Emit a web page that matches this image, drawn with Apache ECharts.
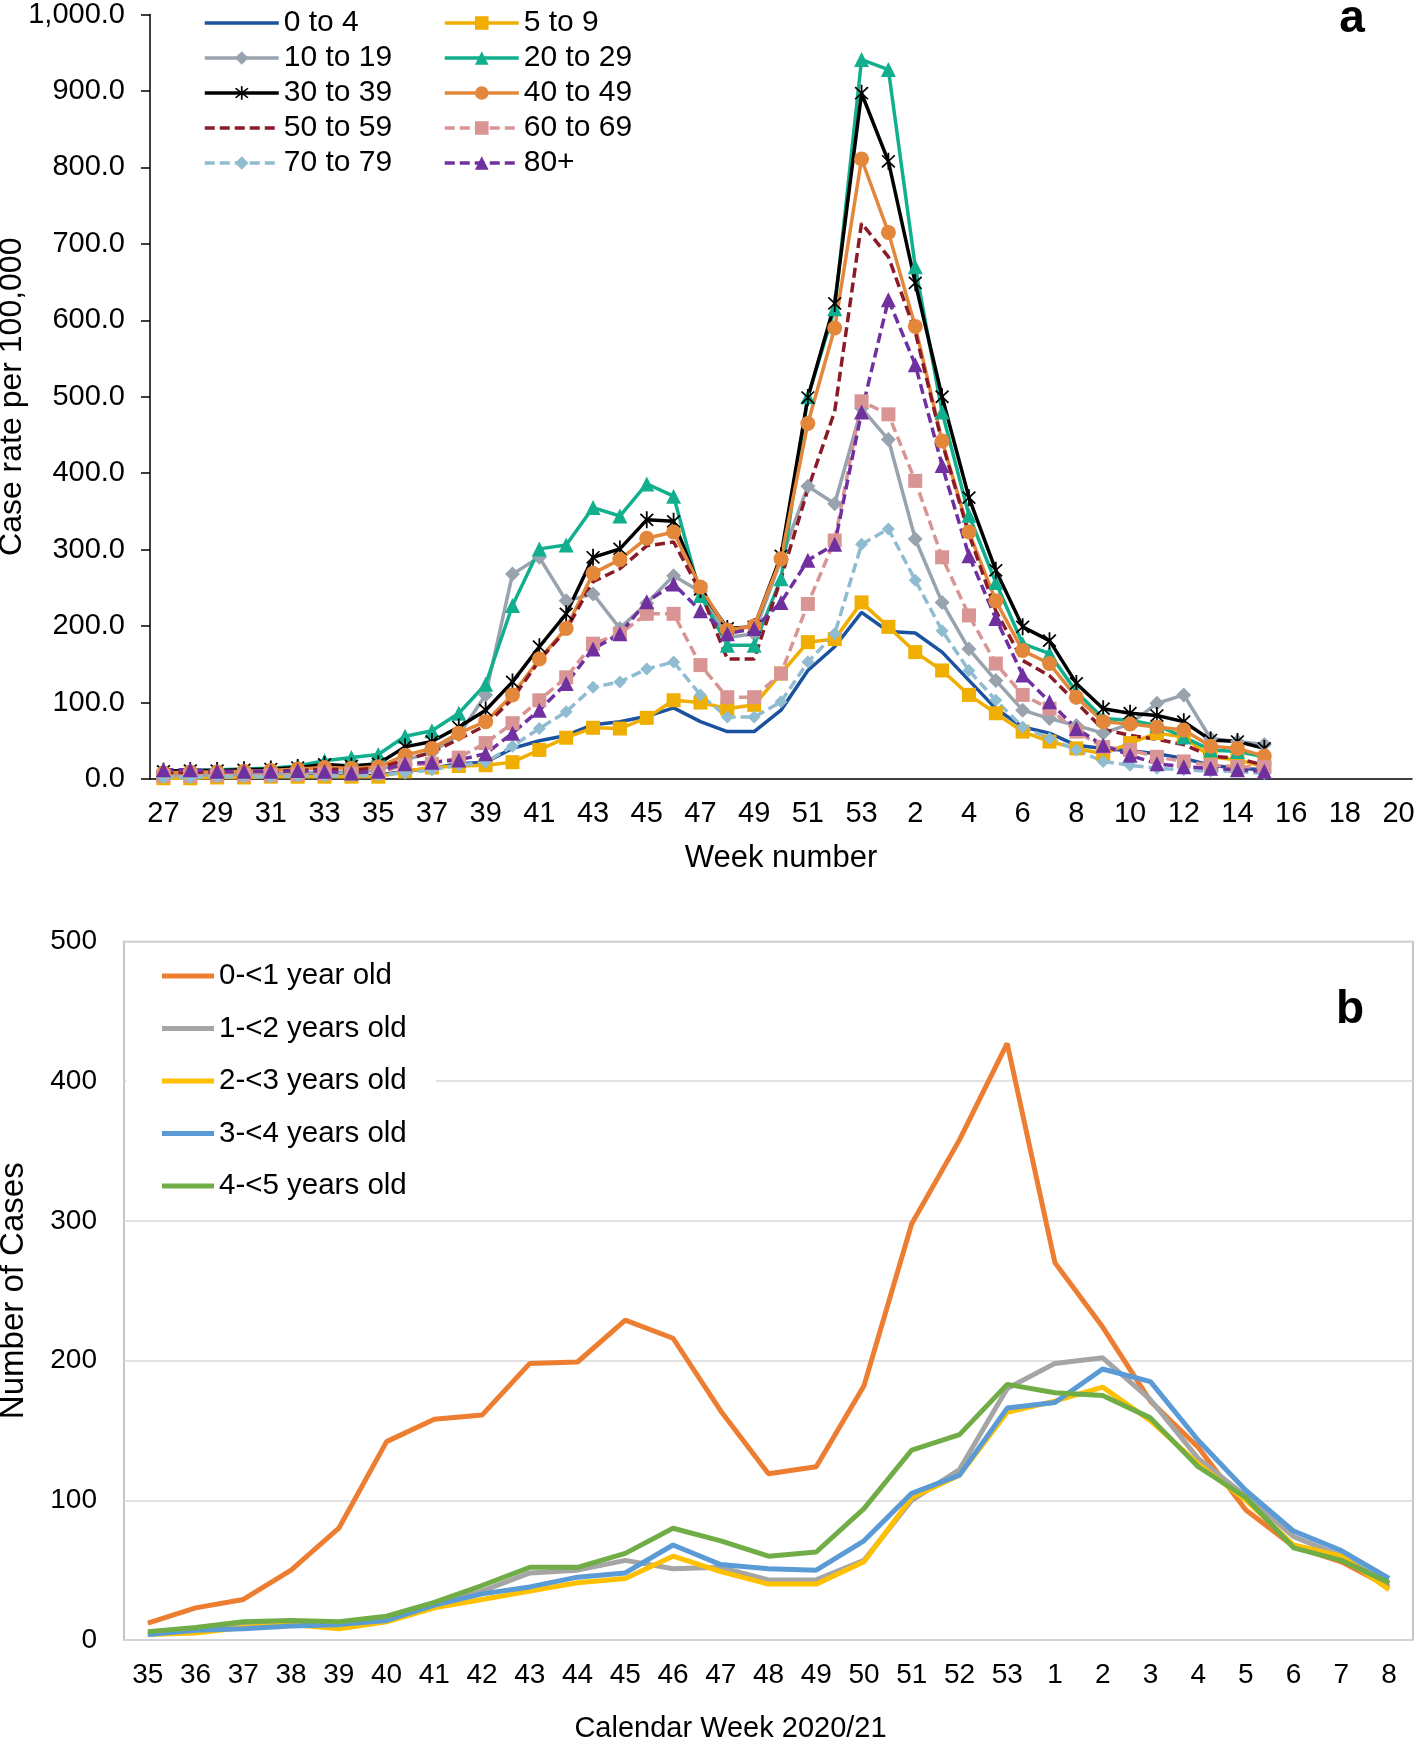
<!DOCTYPE html>
<html>
<head>
<meta charset="utf-8">
<script src="https://cdn.jsdelivr.net/npm/echarts@6/dist/echarts.min.js"></script>
<style>
  html, body { margin: 0; padding: 0; background: #fff; }
  #main { width: 1416px; height: 1744px; }
</style>
</head>
<body>
<div id="main"></div>
<script>
const FONT = '"Liberation Sans", Arial, sans-serif';

// panel a: weeks 27..53, then 1..20
const weeksA = [];
for (let w = 27; w <= 53; w++) weeksA.push(String(w));
for (let w = 1; w <= 20; w++) weeksA.push(String(w));

// case rate per 100,000 (weeks 27 to 15)
const age0to4 = [3, 3, 3, 3, 4, 4, 4, 4, 5, 10, 14, 20, 22, 40, 50, 57, 71, 75, 82, 93, 75, 62, 62, 90, 142, 173, 218,
  193, 191, 166, 129, 92, 68, 60, 44, 40, 37, 33, 27, 18, 14, 12];
const age5to9 = [1, 1, 2, 2, 3, 3, 3, 3, 3, 10, 15, 17, 18, 22, 38, 54, 67, 66, 80, 103, 100, 92, 97, 138, 179, 183, 231,
  199, 166, 142, 110, 86, 62, 49, 40, 33, 47, 60, 55, 29, 25, 16];
const age10to19 = [5, 5, 6, 6, 7, 8, 9, 9, 11, 25, 35, 58, 110, 268, 290, 233, 242, 197, 230, 266, 245, 185, 190, 287, 383, 360, 485,
  444, 314, 231, 170, 129, 90, 79, 70, 60, 72, 99, 110, 53, 49, 45];
const age20to29 = [10, 11, 12, 13, 14, 17, 24, 28, 32, 56, 63, 86, 124, 227, 301, 306, 355, 344, 386, 370, 240, 175, 175, 262, 500, 615, 941,
  928, 670, 480, 345, 257, 177, 164, 114, 79, 77, 70, 55, 38, 36, 29];
const age30to39 = [10, 11, 11, 12, 13, 15, 19, 17, 20, 42, 49, 68, 90, 127, 173, 216, 290, 301, 339, 337, 248, 197, 199, 292, 499, 622, 897,
  808, 649, 500, 368, 273, 199, 181, 125, 92, 86, 83, 75, 51, 49, 40];
const age40to49 = [8, 9, 9, 10, 11, 13, 15, 14, 16, 31, 40, 60, 75, 110, 157, 197, 269, 287, 315, 323, 251, 195, 200, 288, 465, 590, 811,
  715, 592, 442, 323, 233, 168, 151, 107, 75, 72, 68, 64, 43, 40, 30];
const age50to59 = [7, 8, 8, 9, 10, 11, 13, 12, 14, 25, 35, 52, 70, 105, 155, 195, 258, 275, 305, 310, 245, 157, 157, 262, 379, 481, 727,
  683, 585, 440, 320, 220, 155, 135, 100, 65, 57, 52, 45, 30, 27, 18];
const age60to69 = [4, 4, 5, 5, 5, 6, 7, 7, 8, 18, 20, 28, 47, 73, 103, 133, 177, 190, 216, 216, 149, 107, 107, 138, 229, 312, 494,
  477, 390, 290, 214, 151, 110, 92, 62, 42, 38, 29, 23, 18, 16, 16];
const age70to79 = [2, 2, 3, 3, 3, 4, 4, 4, 5, 8, 12, 18, 22, 43, 66, 88, 120, 127, 144, 153, 110, 81, 81, 101, 153, 190, 307,
  327, 260, 194, 142, 103, 68, 53, 38, 23, 18, 14, 12, 10, 10, 7];
const age80plus = [12, 12, 10, 10, 10, 11, 10, 8, 10, 20, 22, 25, 33, 60, 90, 125, 170, 190, 232, 255, 220, 190, 197, 231, 286, 307, 480,
  627, 542, 410, 292, 210, 136, 101, 66, 44, 31, 20, 16, 14, 12, 10];

// panel b: calendar weeks 35..53, 1..8
const weeksB = [];
for (let w = 35; w <= 53; w++) weeksB.push(String(w));
for (let w = 1; w <= 8; w++) weeksB.push(String(w));

const under1 = [12, 23, 29, 50, 80, 142, 158, 161, 198, 199, 229, 216, 164, 119, 124, 182, 298, 358, 427, 270, 224, 171, 138, 93, 67, 56, 38];
const age1 = [5, 8, 11, 12, 12, 16, 25, 35, 48, 50, 57, 51, 52, 43, 43, 57, 100, 122, 180, 198, 202, 172, 130, 103, 74, 60, 40];
const age2 = [4, 5, 9, 11, 8, 13, 23, 29, 35, 41, 44, 60, 49, 40, 40, 56, 102, 118, 163, 171, 181, 157, 126, 100, 68, 60, 36];
const age3 = [4, 7, 8, 10, 11, 14, 25, 33, 38, 45, 48, 68, 54, 51, 50, 71, 105, 118, 166, 170, 194, 185, 143, 107, 78, 64, 44];
const age4 = [6, 9, 13, 14, 13, 17, 27, 39, 52, 52, 62, 80, 71, 60, 63, 94, 136, 147, 183, 177, 175, 159, 124, 102, 66, 57, 41];

// excel style star marker (X with a vertical bar)
const star = 'path://M-10,-100 L10,-100 L10,100 L-10,100 Z M64,78 L-78,-64 L-64,-78 L78,64 Z M78,-64 L-64,78 L-78,64 L64,-78 Z';

const seriesA = [
  { name: '0 to 4', data: age0to4, color: '#1A52A0', symbol: 'none' },
  { name: '5 to 9', data: age5to9, color: '#F0AE00', symbol: 'rect', size: 14 },
  { name: '10 to 19', data: age10to19, color: '#98A3AD', symbol: 'diamond', size: 15 },
  { name: '20 to 29', data: age20to29, color: '#12AF8E', symbol: 'triangle', size: 15 },
  { name: '30 to 39', data: age30to39, color: '#000000', symbol: star, size: [14, 17] },
  { name: '40 to 49', data: age40to49, color: '#E3883A', symbol: 'circle', size: 15 },
  { name: '50 to 59', data: age50to59, color: '#8A1C2A', symbol: 'none', dash: true },
  { name: '60 to 69', data: age60to69, color: '#D99594', symbol: 'rect', size: 14, dash: true },
  { name: '70 to 79', data: age70to79, color: '#8FBCD0', symbol: 'diamond', size: 13, dash: true },
  { name: '80+', data: age80plus, color: '#7030A0', symbol: 'triangle', size: 15, dash: true },
];

const seriesB = [
  { name: '0-<1 year old', data: under1, color: '#ED7D31' },
  { name: '1-<2 years old', data: age1, color: '#A5A5A5' },
  { name: '2-<3 years old', data: age2, color: '#FFC000' },
  { name: '3-<4 years old', data: age3, color: '#5B9BD5' },
  { name: '4-<5 years old', data: age4, color: '#70AD47' },
];

function fmtRate(v) {
  return v.toLocaleString('en-US', { minimumFractionDigits: 1, maximumFractionDigits: 1 });
}

const series = [];
seriesA.forEach(function (s) {
  series.push({
    type: 'line',
    name: s.name,
    xAxisIndex: 0,
    yAxisIndex: 0,
    data: s.data,
    symbol: s.symbol,
    symbolSize: s.size || 0,
    showSymbol: s.symbol !== 'none',
    color: s.color,
    lineStyle: { color: s.color, width: 3.5, type: s.dash ? [10, 5] : 'solid' },
    itemStyle: { color: s.color },
    emphasis: { disabled: true },
  });
});
seriesB.forEach(function (s) {
  series.push({
    type: 'line',
    name: s.name,
    xAxisIndex: 1,
    yAxisIndex: 1,
    data: s.data,
    symbol: 'none',
    color: s.color,
    lineStyle: { color: s.color, width: 5 },
    itemStyle: { color: s.color },
    emphasis: { disabled: true },
  });
});

// legend entries; series without markers get an invisible symbol
function legendItem(s) {
  const item = { name: s.name };
  if (s.symbol === 'none') item.itemStyle = { opacity: 0 };
  return item;
}
const legendA1 = [0, 2, 4, 6, 8].map(function (i) { return legendItem(seriesA[i]); });
const legendA2 = [1, 3, 5, 7, 9].map(function (i) { return legendItem(seriesA[i]); });

const legendTextA = { fontSize: 30, lineHeight: 32, fontFamily: FONT, color: '#000' };

const chart = echarts.init(document.getElementById('main'));
chart.setOption({
  animation: false,
  backgroundColor: '#fff',
  textStyle: { fontFamily: FONT, color: '#000' },
  grid: [
    { left: 150, top: 14.5, right: 4, bottom: 965, show: false, outerBoundsMode: 'none' },
    { left: 124, top: 941.5, right: 3, bottom: 104, show: true, borderColor: '#B4B4B4', borderWidth: 1.5, outerBoundsMode: 'none' },
  ],
  legend: [
    {
      orient: 'vertical', left: 203, top: 7, padding: 0, itemGap: 3,
      itemWidth: 74, itemHeight: 17, data: legendA1,
      lineStyle: { width: 'inherit' },
      textStyle: legendTextA,
    },
    {
      orient: 'vertical', left: 443, top: 7, padding: 0, itemGap: 3,
      itemWidth: 74, itemHeight: 17, data: legendA2,
      lineStyle: { width: 'inherit' },
      textStyle: legendTextA,
    },
    {
      orient: 'vertical', left: 126.5, top: 944, padding: [17, 29, 8, 33], itemGap: 22.5,
      backgroundColor: '#fff', itemWidth: 52, itemHeight: 14,
      data: seriesB.map(function (s) { return { name: s.name, itemStyle: { opacity: 0 } }; }),
      lineStyle: { width: 'inherit' },
      textStyle: { fontSize: 29.5, lineHeight: 30, fontFamily: FONT, color: '#000' },
    },
  ],
  xAxis: [
    {
      gridIndex: 0, type: 'category', data: weeksA, boundaryGap: true,
      axisLine: { lineStyle: { color: '#000', width: 1.5 } },
      axisTick: { interval: 0, length: 9, lineStyle: { color: '#000', width: 1.5 } },
      axisLabel: { interval: 1, margin: 20, fontSize: 29, color: '#000', fontFamily: FONT },
      name: 'Week number', nameLocation: 'middle', nameGap: 64,
      nameTextStyle: { fontSize: 31, color: '#000', fontFamily: FONT },
    },
    {
      gridIndex: 1, type: 'category', data: weeksB, boundaryGap: true,
      axisLine: { show: false },
      axisTick: { show: false },
      axisLabel: { interval: 0, margin: 21, fontSize: 28, color: '#000', fontFamily: FONT },
      name: 'Calendar Week 2020/21', nameLocation: 'middle', nameGap: 74,
      nameTextStyle: { fontSize: 29, color: '#000', fontFamily: FONT, padding: [0, 76, 0, 0] },
    },
  ],
  yAxis: [
    {
      gridIndex: 0, type: 'value', min: 0, max: 1000, interval: 100,
      axisLine: { show: true, lineStyle: { color: '#000', width: 1.5 } },
      axisTick: { show: true, length: 9, lineStyle: { color: '#000', width: 1.5 } },
      splitLine: { show: false },
      axisLabel: { margin: 25, fontSize: 29, color: '#000', fontFamily: FONT, formatter: fmtRate },
      name: 'Case rate per 100,000', nameLocation: 'middle', nameGap: 122, nameMoveOverlap: false,
      nameTextStyle: { fontSize: 32, color: '#000', fontFamily: FONT },
    },
    {
      gridIndex: 1, type: 'value', min: 0, max: 500, interval: 100,
      axisLine: { show: false },
      axisTick: { show: false },
      splitLine: { lineStyle: { color: '#D9D9D9', width: 1.5 } },
      axisLabel: { margin: 27, fontSize: 28, color: '#000', fontFamily: FONT },
      name: 'Number of Cases', nameLocation: 'middle', nameGap: 94, nameMoveOverlap: false,
      nameTextStyle: { fontSize: 33, color: '#000', fontFamily: FONT },
    },
  ],
  graphic: [
    {
      type: 'text', x: 1352, y: 19, z: 10,
      style: { text: 'a', fontSize: 46, fontWeight: 'bold', fontFamily: FONT, fill: '#000', align: 'center', verticalAlign: 'middle' },
    },
    {
      type: 'text', x: 1350, y: 1010, z: 10,
      style: { text: 'b', fontSize: 46, fontWeight: 'bold', fontFamily: FONT, fill: '#000', align: 'center', verticalAlign: 'middle' },
    },
  ],
  series: series,
});
</script>
</body>
</html>
